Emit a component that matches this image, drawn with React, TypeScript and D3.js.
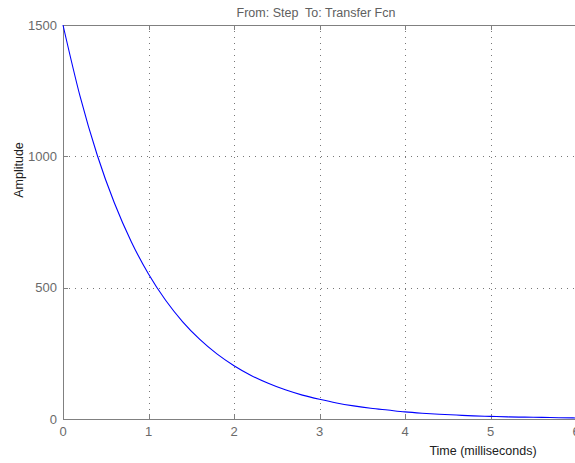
import React from "react";
import * as d3 from "d3";

// Step response samples (time in ms, amplitude)
const timeMs = [0, 0.2, 0.4, 0.6, 0.8, 1.0, 1.2, 1.4, 1.6, 1.8, 2.0, 2.2, 2.4, 2.6, 2.8, 3.0, 3.2, 3.4, 3.6, 3.8, 4.0, 4.2, 4.4, 4.6, 4.8, 5.0, 5.2, 5.4, 5.6, 5.8, 6.0];
const amplitude = [1500, 1228, 1005, 823, 674, 552, 452, 370, 303, 248, 203, 166, 136, 111, 91, 75, 61, 50, 41, 34, 27, 22, 18, 15, 12, 10, 8, 7, 6, 5, 4];
const xTicks = [0, 1, 2, 3, 4, 5, 6];
const yTicks = [0, 500, 1000, 1500];

const W = 575;
const H = 463;
const left = 63;
const right = 576;
const top = 25;
const bottom = 419;

export default function App() {
  const x = d3.scaleLinear().domain([0, 6]).range([left, right]);
  const y = d3.scaleLinear().domain([0, 1500]).range([bottom, top]);
  const line = d3
    .line<number>()
    .x((_, i) => x(timeMs[i]))
    .y((d) => y(d))
    .curve(d3.curveMonotoneX);
  const axisColor = "#808080";
  const font = "Liberation Sans, Arial, sans-serif";
  const tickColor = "#6a6a6a";

  return (
    <svg
      width={W}
      height={H}
      style={{ position: "absolute", left: 0, top: 0, background: "#fff" }}
    >
      <rect x={0} y={0} width={W} height={H} fill="#fff" />
      {/* grid */}
      {xTicks.slice(1, -1).map((t) => (
        <line key={"gx" + t} x1={Math.round(x(t)) + 0.5} x2={Math.round(x(t)) + 0.5} y1={top} y2={bottom} stroke="#777" strokeDasharray="1 5" />
      ))}
      {yTicks.slice(1, -1).map((t) => (
        <line key={"gy" + t} x1={left} x2={right} y1={Math.round(y(t)) + 0.5} y2={Math.round(y(t)) + 0.5} stroke="#777" strokeDasharray="1 5" />
      ))}
      {/* frame */}
      <rect x={left + 0.5} y={top + 0.5} width={right - left} height={bottom - top} fill="none" stroke={axisColor} strokeWidth={1} />
      {/* ticks */}
      {xTicks.map((t) => (
        <g key={"tx" + t}>
          <line x1={Math.round(x(t)) + 0.5} x2={Math.round(x(t)) + 0.5} y1={bottom} y2={bottom - 5} stroke={axisColor} />
          <line x1={Math.round(x(t)) + 0.5} x2={Math.round(x(t)) + 0.5} y1={top} y2={top + 5} stroke={axisColor} />
          <text x={x(t)} y={bottom + 17} textAnchor="middle" fontSize={13} fontFamily={font} fill={tickColor}>
            {t}
          </text>
        </g>
      ))}
      {yTicks.map((t) => (
        <g key={"ty" + t}>
          <line x1={left} x2={left + 5} y1={Math.round(y(t)) + 0.5} y2={Math.round(y(t)) + 0.5} stroke={axisColor} />
          <text x={left - 6} y={y(t) + 4.5} textAnchor="end" fontSize={13} fontFamily={font} fill={tickColor}>
            {t}
          </text>
        </g>
      ))}
      {/* response curve */}
      <path d={line(amplitude) ?? ""} fill="none" stroke="#0000ff" strokeWidth={1.1} />
      {/* labels */}
      <text x={316} y={17} textAnchor="middle" fontSize={12.5} fontFamily={font} fill="#606060" style={{ whiteSpace: "pre" }}>
        {"From: Step  To: Transfer Fcn"}
      </text>
      <text x={483} y={455} textAnchor="middle" fontSize={12.5} fontFamily={font} fill="#202020">
        Time (milliseconds)
      </text>
      <text transform="translate(23,170) rotate(-90)" textAnchor="middle" fontSize={12.5} fontFamily={font} fill="#202020">
        Amplitude
      </text>
    </svg>
  );
}
